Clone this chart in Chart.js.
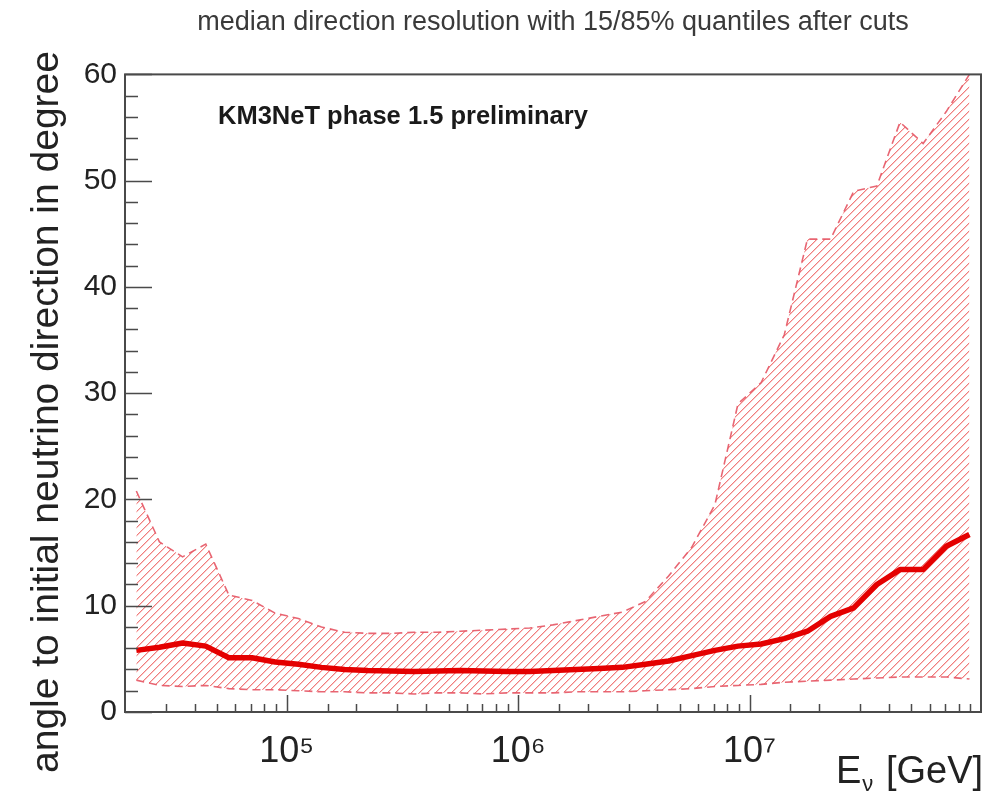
<!DOCTYPE html>
<html>
<head>
<meta charset="utf-8">
<script src="https://cdn.jsdelivr.net/npm/chart.js@4.4.1/dist/chart.umd.min.js"></script>
<style>
html,body{margin:0;padding:0;background:#fff;}
#wrap{width:999px;height:792px;position:relative;}
</style>
</head>
<body>
<div id="wrap"><canvas id="c"></canvas></div>
<script>
// Neutrino energy bin centres (GeV)
const energies = [
  22387, 28184, 35481, 44668, 56234, 70795, 89125,
  112202, 141254, 177828, 223872, 281838, 354813, 446684, 562341, 707946, 891251,
  1122018, 1412538, 1778279, 2238721, 2818383, 3548134, 4466836, 5623413, 7079458, 8912509,
  11220185, 14125375, 17782794, 22387211, 28183829, 35481339, 44668359, 56234133, 70794578, 89125094
];
// 85% quantile (degrees)
const upperQuantile = [
  20.8, 16.0, 14.6, 15.8, 11.0, 10.5, 9.3,
  8.8, 8.0, 7.5, 7.4, 7.4, 7.5, 7.5, 7.6, 7.7, 7.8,
  7.9, 8.2, 8.6, 9.0, 9.4, 10.4, 12.8, 15.5, 19.5, 29.0,
  31.0, 35.5, 44.5, 44.5, 49.0, 49.5, 55.5, 53.5, 56.5, 60.0
];
// median (degrees)
const medianAngle = [
  5.8, 6.1, 6.5, 6.2, 5.1, 5.1, 4.7,
  4.5, 4.2, 4.0, 3.9, 3.85, 3.8, 3.85, 3.9, 3.85, 3.8,
  3.8, 3.9, 4.0, 4.1, 4.2, 4.5, 4.8, 5.3, 5.8, 6.2,
  6.4, 6.9, 7.6, 9.0, 9.8, 12.0, 13.4, 13.4, 15.6, 16.7
];
// 15% quantile (degrees)
const lowerQuantile = [
  3.0, 2.5, 2.4, 2.5, 2.2, 2.1, 2.1,
  2.0, 1.9, 1.9, 1.8, 1.8, 1.7, 1.8, 1.8, 1.7, 1.8,
  1.8, 1.8, 1.9, 1.9, 1.9, 2.0, 2.1, 2.2, 2.4, 2.5,
  2.6, 2.8, 2.9, 3.0, 3.1, 3.2, 3.3, 3.3, 3.3, 3.1
];
const xLabels = {100000: '10\u2075', 1000000: '10\u2076', 10000000: '10\u2077'};
const yTicks = [0, 10, 20, 30, 40, 50, 60];

const titleText = 'median direction resolution with 15/85% quantiles after cuts';
const yTitleText = 'angle to initial neutrino direction in degree';
const labelText = 'KM3NeT phase 1.5 preliminary';

function pts(arr){ return energies.map((e,i)=>({x:e, y:arr[i]})); }

// hatch pattern (pixel-exact "/" diagonals)
const pc = document.createElement('canvas');
const P = 8;
pc.width = P; pc.height = P;
const pctx = pc.getContext('2d');
pctx.clearRect(0,0,P,P);
for (let i=0;i<P;i++){
  pctx.fillStyle = 'rgb(240,125,125)';
  pctx.fillRect(i, P-1-i, 1, 1);
  pctx.fillStyle = 'rgb(250,200,200)';
  pctx.fillRect((i+1)%P, P-1-i, 1, 1);
}
const hatch = pctx.createPattern(pc, 'repeat');

const FONT = "'Liberation Sans', Arial, Helvetica, sans-serif";

const framePlugin = {
  id: 'frame',
  afterDatasetsDraw(chart){
    const {ctx, chartArea:a, scales} = chart;
    const xs = scales.x, ys = scales.y;
    ctx.save();
    ctx.strokeStyle = '#4a4a4a';
    ctx.lineWidth = 2;
    ctx.strokeRect(a.left, a.top, a.right-a.left, a.bottom-a.top);
    ctx.lineWidth = 1.5;
    ctx.beginPath();
    for (let v=0; v<=60; v+=2){
      const y = Math.round(ys.getPixelForValue(v))+0.5;
      const len = (v%10===0) ? 27 : 13;
      ctx.moveTo(a.left, y); ctx.lineTo(a.left+len, y);
    }
    xs.ticks.forEach(t=>{
      const v = t.value;
      if (v<=xs.min || v>=xs.max) return;
      const lg = Math.log10(v);
      const major = Math.abs(lg-Math.round(lg))<1e-6;
      const x = Math.round(xs.getPixelForValue(v))+0.5;
      ctx.moveTo(x, a.bottom); ctx.lineTo(x, a.bottom-(major?17:8));
    });
    ctx.stroke();
    // text label inside plot
    ctx.fillStyle = '#1a1a1a';
    ctx.font = 'bold 25.5px ' + FONT;
    ctx.textBaseline = 'alphabetic';
    ctx.textAlign = 'left';
    ctx.fillText(labelText, 218, 124);
    // y-axis title
    ctx.save();
    ctx.translate(58, 412);
    ctx.rotate(-Math.PI/2);
    ctx.textAlign = 'center';
    ctx.fillStyle = '#222';
    ctx.font = '39px ' + FONT;
    ctx.fillText(yTitleText, 0, 0);
    ctx.restore();
    // x-axis title with subscript nu
    ctx.fillStyle = '#222';
    ctx.font = '38px ' + FONT;
    ctx.fillText('E', 836, 783);
    const wE = ctx.measureText('E').width;
    ctx.font = '22px ' + FONT;
    ctx.fillText('\u03BD', 836+wE+1, 791);
    ctx.font = '38px ' + FONT;
    ctx.fillText('[GeV]', 886, 783);
    ctx.restore();
  }
};

new Chart(document.getElementById('c'), {
  type: 'line',
  data: {
    datasets: [
      {
        label: '85% quantile',
        data: pts(upperQuantile),
        borderColor: 'rgba(230,85,100,0.9)',
        borderWidth: 1.6,
        borderDash: [8,5],
        backgroundColor: hatch,
        fill: 1,
        pointRadius: 0,
        tension: 0,
        order: 2
      },
      {
        label: '15% quantile',
        data: pts(lowerQuantile),
        borderColor: 'rgba(230,85,100,0.9)',
        borderWidth: 1.6,
        borderDash: [8,5],
        fill: false,
        pointRadius: 0,
        tension: 0,
        order: 1
      },
      {
        label: 'median',
        data: pts(medianAngle),
        borderColor: 'rgb(228,0,0)',
        borderWidth: 5.5,
        fill: false,
        pointRadius: 0,
        tension: 0,
        borderJoinStyle: 'round',
        order: 0
      }
    ]
  },
  options: {
    responsive: true,
    maintainAspectRatio: false,
    animation: false,
    layout: {padding: {left: 0, right: 18, top: 0, bottom: 0}},
    plugins: {
      legend: {display: false},
      tooltip: {enabled: false},
      title: {
        display: true,
        fullSize: false,
        text: titleText,
        color: '#3a3a3a',
        font: {family: FONT, size: 27, weight: 'normal'},
        padding: {top: 6, bottom: 36}
      }
    },
    scales: {
      x: {
        type: 'logarithmic',
        min: 20000,
        max: 100000000,
        grid: {display: false},
        border: {display: false},
        ticks: {
          autoSkip: false,
          maxRotation: 0,
          padding: 10,
          color: '#222',
          font: {family: FONT, size: 36},
          callback: (v)=> xLabels[v] || ''
        },
        afterFit: (s)=>{ s.height = 80; }
      },
      y: {
        min: 0,
        max: 60,
        grid: {display: false},
        border: {display: false},
        ticks: {
          stepSize: 10,
          padding: 0,
          color: '#222',
          font: {family: FONT, size: 30},
          callback: (v)=> yTicks.includes(v) ? String(v) : ''
        },
        title: {display: false, text: yTitleText},
        afterFit: (s)=>{ s.width = 125; }
      }
    }
  },
  plugins: [framePlugin]
});
</script>
</body>
</html>
